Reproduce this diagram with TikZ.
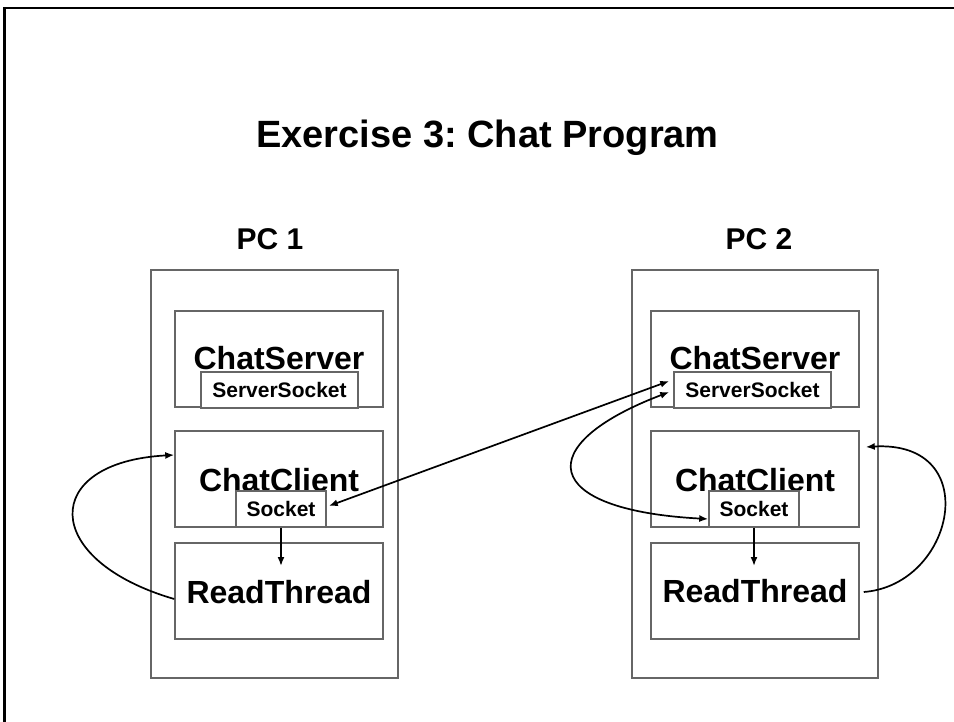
\documentclass[tikz,border=0pt]{standalone}
\usepackage{fontspec}
\setmainfont{Liberation Sans}
\usetikzlibrary{arrows.meta}
\definecolor{boxgray}{HTML}{666666}
\frenchspacing
\begin{document}
\begin{tikzpicture}[x=1pt,y=-1pt,
  boxline/.style={draw=boxgray, line width=1.5pt, rectangle, inner sep=0pt},
  pcbox/.style={boxline, minimum width=#1, minimum height=408pt},
  partbox/.style={boxline, minimum width=208pt, minimum height=96pt},
  sockbox/.style={boxline, fill=white, minimum height=36pt,
    font=\fontsize{21}{24}\selectfont\bfseries},
  title/.style={font=\fontsize{38}{46}\selectfont\bfseries, inner sep=0pt, anchor=base},
  pclabel/.style={font=\fontsize{30}{36}\selectfont\bfseries, inner sep=0pt, anchor=base},
  partlabel/.style={font=\fontsize{32}{38}\selectfont\bfseries, inner sep=0pt, anchor=base},
  tip/.tip={Latex[length=9pt,width=7pt]},
  conn/.style={draw=black, line width=1.7pt, -tip},
  biconn/.style={draw=black, line width=1.7pt, tip-tip}
]
\useasboundingbox (0,0) rectangle (954,722);

% page frame
\draw[line width=2.5pt] (4.5,722) -- (4.5,8) -- (954,8);

% headings
\node[title] (head) at (487.5,148) {Exercise 3: Chat Program};
\node[pclabel] (pc1lbl) at (270,250) {PC 1};
\node[pclabel] (pc2lbl) at (759,250) {PC 2};

% machine outlines
\node[pcbox=247pt] (pc1) at (274.5,474) {};
\node[pcbox=246pt] (pc2) at (755,474) {};

% PC 1 components
\node[partbox] (srv1) at (279,359) {};
\node[partbox] (cli1) at (279,479) {};
\node[partbox] (rt1)  at (279,591) {};
\node[partlabel] (srv1t) at (279,370) {ChatServer};
\node[partlabel] (cli1t) at (279,491) {ChatClient};
\node[partlabel] (rt1t)  at (279,603) {ReadThread};
\node[sockbox, minimum width=157pt] (ss1) at (279.5,390) {ServerSocket};
\node[sockbox, minimum width=90pt]  (so1) at (281,509) {Socket};

% PC 2 components
\node[partbox] (srv2) at (755,359) {};
\node[partbox] (cli2) at (755,479) {};
\node[partbox] (rt2)  at (755,591) {};
\node[partlabel] (srv2t) at (755,370) {ChatServer};
\node[partlabel] (cli2t) at (755,491) {ChatClient};
\node[partlabel] (rt2t)  at (755,602) {ReadThread};
\node[sockbox, minimum width=157pt] (ss2) at (752.5,390) {ServerSocket};
\node[sockbox, minimum width=90pt]  (so2) at (754,509) {Socket};

% socket -> read thread
\coordinate (d1) at (so1.south |- 0,566);
\coordinate (d2) at (so2.south |- 0,566);
\draw[conn] (so1.south) -- (d1);
\draw[conn] (so2.south) -- (d2);

% network link between the machines
\draw[biconn] ([xshift=2pt,yshift=3pt]so1.east) -- ([xshift=-4pt,yshift=9pt]ss2.west);

% local connection on PC 2
\draw[biconn] ([xshift=-4pt,yshift=-2pt]ss2.west)
  .. controls (530,445) and (540,510) .. ([yshift=-10pt]so2.west);

% read thread feeding back to the client
\draw[conn] ([yshift=-8pt]rt1.west)
  .. controls (40,560) and (40,462) .. ([yshift=24pt]cli1.west);
\draw[conn] ([xshift=4pt,yshift=-1pt]rt2.east)
  .. controls (955,585) and (985,440) .. ([xshift=6pt,yshift=32pt]cli2.east);
\end{tikzpicture}
\end{document}
